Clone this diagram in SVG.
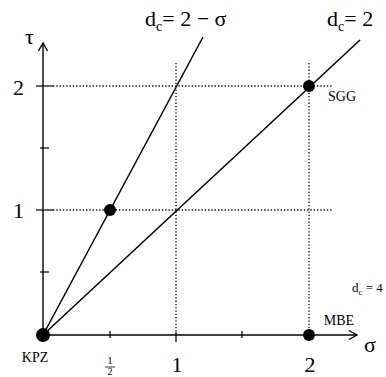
<svg xmlns="http://www.w3.org/2000/svg" width="386" height="377" viewBox="0 0 386 377">
<style>
text{font-family:"Liberation Serif","Times New Roman",serif;fill:#000}
.ax{stroke:#000;stroke-width:1.4;fill:none}
.ln{stroke:#000;stroke-width:1.5;fill:none}
.dot{stroke:#000;stroke-width:1.3;stroke-dasharray:1.3 2;fill:none}
.tk{stroke:#000;stroke-width:1.2}
.lab{font-size:22px}
.sm{font-size:14px}
.big{font-size:22px}
</style>
<rect width="386" height="377" fill="#fff"/>
<g id="grid">
<line class="dot" x1="53" y1="86" x2="333" y2="86"/>
<line class="dot" x1="53" y1="210" x2="333" y2="210"/>
<line class="dot" x1="176" y1="63" x2="176" y2="334"/>
<line class="dot" x1="309" y1="63" x2="309" y2="334"/>
</g>
<g id="axes">
<line class="ax" x1="43" y1="335" x2="43" y2="43"/>
<polyline class="ax" points="38.5,51 43,43 47.5,51"/>
<line class="ax" x1="43" y1="335" x2="357" y2="335"/>
<polyline class="ax" points="349,330.5 357,335 349,339.5"/>
<line class="tk" x1="36" y1="86" x2="53" y2="86"/>
<line class="tk" x1="36" y1="210" x2="53" y2="210"/>
<line class="tk" x1="40" y1="148" x2="49" y2="148"/>
<line class="tk" x1="40" y1="272" x2="49" y2="272"/>
<line class="tk" x1="110" y1="331" x2="110" y2="338"/>
<line class="tk" x1="176" y1="332" x2="176" y2="342"/>
<line class="tk" x1="242" y1="331" x2="242" y2="338"/>
</g>
<g id="connectors">
<line class="ln" x1="43" y1="335" x2="203" y2="37"/>
<line class="ln" x1="43" y1="335" x2="360" y2="40"/>
</g>
<g id="KPZ"><circle cx="43" cy="335" r="7"/><text class="sm" x="35" y="362" text-anchor="middle">KPZ</text></g>
<g id="half"><circle cx="110" cy="210" r="6"/></g>
<g id="SGG"><circle cx="309" cy="86" r="6"/><text class="sm" x="342" y="101" text-anchor="middle">SGG</text></g>
<g id="MBE"><circle cx="309" cy="335" r="6"/><text class="sm" x="339" y="325" text-anchor="middle">MBE</text></g>
<g id="labels">
<text class="big" x="25" y="44">τ</text>
<text class="big" x="13" y="95">2</text>
<text class="big" x="13" y="218">1</text>
<text class="big" x="370" y="352" text-anchor="middle">σ</text>
<text x="110" y="364" font-size="11" text-anchor="middle">1</text>
<line x1="105" y1="367" x2="115" y2="367" stroke="#000" stroke-width="0.8"/>
<text x="110" y="375" font-size="10" text-anchor="middle">2</text>
<text class="big" x="177" y="372" text-anchor="middle">1</text>
<text class="big" x="310" y="372" text-anchor="middle">2</text>
<text class="lab" x="145" y="26">d<tspan font-size="14" dy="5">c</tspan><tspan dy="-5">= 2 − σ</tspan></text>
<text class="lab" x="327" y="26">d<tspan font-size="14" dy="5">c</tspan><tspan dy="-5">= 2</tspan></text>
<text font-size="13" x="352" y="292">d<tspan font-size="9" dy="3">c</tspan><tspan dy="-3"> = 4</tspan></text>
</g>
</svg>
